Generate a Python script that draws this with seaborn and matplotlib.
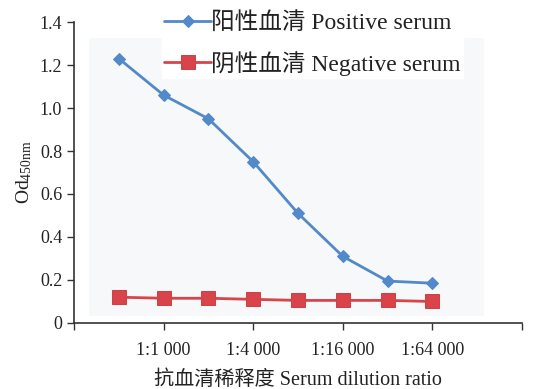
import matplotlib
matplotlib.use("Agg")
import matplotlib.pyplot as plt
import seaborn as sns
import pandas as pd
from matplotlib.patches import Rectangle

# ---- data ----
x_pos = [0.5, 1, 1.5, 2, 2.5, 3, 3.5, 4]
positive = [1.23, 1.06, 0.95, 0.75, 0.51, 0.31, 0.195, 0.185]
negative = [0.12, 0.115, 0.115, 0.11, 0.105, 0.105, 0.105, 0.10]
tick_pos = [0, 1, 2, 3, 4, 5]
tick_labels = ["", "1:1 000", "1:4 000", "1:16 000", "1:64 000", ""]
pos_name = "阳性血清 Positive serum"
neg_name = "阴性血清 Negative serum"

sns.set_theme(style="ticks")
plt.rcParams["font.family"] = ["Liberation Serif", "Noto Sans CJK SC"]
plt.rcParams["mathtext.fontset"] = "custom"
plt.rcParams["mathtext.rm"] = "Liberation Serif"
plt.rcParams["mathtext.it"] = "Liberation Serif:italic"

df_pos = pd.DataFrame({"x": x_pos, "y": positive})
df_neg = pd.DataFrame({"x": x_pos, "y": negative})

fig = plt.figure(figsize=(5.34, 3.89), dpi=100)
ax = fig.add_axes([0.1386, 0.1697, 0.8389, 0.7737])
ax.set_facecolor("none")

# faint background panel (from the source image)
ax.add_patch(Rectangle((89 / 534, 1 - 316 / 389), (484 - 89) / 534, (316 - 38) / 389,
                       transform=fig.transFigure, facecolor="#f7f8fa",
                       edgecolor="none", zorder=0, clip_on=False))

sns.lineplot(data=df_pos, x="x", y="y", ax=ax, color="#5289c9", marker="D",
             markersize=6, linewidth=2, markeredgecolor="#5289c9", label=pos_name, zorder=3)
sns.lineplot(data=df_neg, x="x", y="y", ax=ax, color="#d9434a", marker="s",
             markersize=10, linewidth=2, markeredgecolor="#c94448", label=neg_name, zorder=3)

ax.set_xlim(0, 5)
ax.set_ylim(0, 1.4)
ax.set_xticks(tick_pos)
ax.set_xticklabels(tick_labels, fontsize=13, color="#222222")
ax.set_yticks([0, 0.2, 0.4, 0.6, 0.8, 1.0, 1.2, 1.4])
ax.set_yticklabels(["0", "0.2", "0.4", "0.6", "0.8", "1.0", "1.2", "1.4"],
                   fontsize=13, color="#222222")
ax.tick_params(axis="both", direction="out", length=5, width=1, color="#333333")
ax.tick_params(axis="x", pad=9)
for s in ["top", "right"]:
    ax.spines[s].set_visible(False)
for s in ["left", "bottom"]:
    ax.spines[s].set_color("#333333")
    ax.spines[s].set_linewidth(1.2)

ax.set_xlabel("抗血清稀释度 Serum dilution ratio", fontsize=14.5, color="#222222", labelpad=8)
ax.set_ylabel(r"Od$_{\mathrm{450nm}}$", fontsize=14, color="#222222", labelpad=4)

leg = ax.legend(loc="upper left", bbox_to_anchor=(150 / 534, 1.005), bbox_transform=fig.transFigure,
                fontsize=17, frameon=True, framealpha=1, edgecolor="white", facecolor="white",
                handlelength=2.0, handletextpad=0.0, labelspacing=0.7, borderpad=0.1,
                fancybox=False)
leg.set_zorder(5)
for t in leg.get_texts():
    t.set_color("#222222")

fig.savefig("out.png", dpi=100)
